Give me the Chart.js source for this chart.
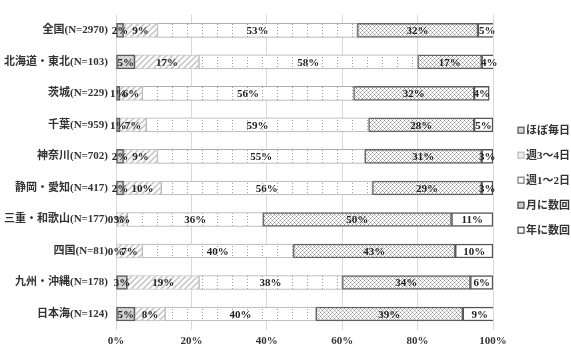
<!DOCTYPE html>
<html>
<head>
<meta charset="utf-8">
<script src="https://cdn.jsdelivr.net/npm/chart.js@4/dist/chart.umd.min.js"></script>
<style>
  html, body { margin: 0; padding: 0; background: #fff; }
  canvas { display: block; }
</style>
</head>
<body>
<canvas id="chart" width="571" height="353"></canvas>
<script>
// Regions (N = respondents)
const regions = [
  '全国(N=2970)', '北海道・東北(N=103)', '茨城(N=229)', '千葉(N=959)', '神奈川(N=702)',
  '静岡・愛知(N=417)', '三重・和歌山(N=177)', '四国(N=81)', '九州・沖縄(N=178)', '日本海(N=124)'
];
const seriesNames = ['ほぼ毎日', '週3〜4日', '週1〜2日', '月に数回', '年に数回'];

// Share of respondents per frequency (%)
const almostDaily   = [2, 5, 1, 1, 2, 2, 0, 0, 3, 5];
const threeFourWeek = [9, 17, 6, 7, 9, 10, 3, 7, 19, 8];
const oneTwoWeek    = [53, 58, 56, 59, 55, 56, 36, 40, 38, 40];
const fewPerMonth   = [32, 17, 32, 28, 31, 29, 50, 43, 34, 39];
const fewPerYear    = [5, 4, 4, 5, 3, 3, 11, 10, 6, 9];

const xTicks = [0, 20, 40, 60, 80, 100];

const FONT_FAMILY = "'Liberation Serif', 'Noto Sans CJK JP', serif";

// ---- fill patterns ----
function makeTile(w, h, draw) {
  const c = document.createElement('canvas');
  c.width = w; c.height = h;
  const g = c.getContext('2d');
  g.fillStyle = '#ffffff';
  g.fillRect(0, 0, w, h);
  draw(g, w, h);
  return document.createElement('canvas').getContext('2d').createPattern(c, 'repeat');
}

const solidLight = makeTile(4, 4, (g) => {
  g.fillStyle = '#d6d6d6';
  g.fillRect(0, 0, 4, 4);
  g.fillStyle = '#bdbdbd';
  g.fillRect(0, 0, 1, 1);
  g.fillRect(2, 2, 1, 1);
});

const diagonal = makeTile(6, 6, (g) => {
  g.strokeStyle = '#c9c9c9';
  g.lineWidth = 1.6;
  g.beginPath();
  g.moveTo(-1, 7); g.lineTo(7, -1);
  g.moveTo(-1, 1); g.lineTo(1, -1);
  g.moveTo(5, 7); g.lineTo(7, 5);
  g.stroke();
});

const dottedCols = makeTile(15, 3, (g) => {
  g.fillStyle = '#9a9a9a';
  g.fillRect(7, 0, 1, 1);
});

const crossHatch = makeTile(4, 4, (g) => {
  g.fillStyle = '#8f8f8f';
  g.fillRect(0, 0, 1, 1);
  g.fillRect(2, 2, 1, 1);
  g.fillStyle = '#c4c4c4';
  g.fillRect(1, 1, 1, 1);
  g.fillRect(3, 3, 1, 1);
  g.fillRect(1, 3, 1, 1);
  g.fillRect(3, 1, 1, 1);
});

const seriesStyles = [
  { bg: solidLight, border: '#5c5c5c', width: 1.5, legendFill: '#d9d9d9', legendBorder: '#555' },
  { bg: diagonal,   border: '#c2c2c2', width: 1,   legendFill: '#eeeeee', legendBorder: '#bbb' },
  { bg: dottedCols, border: '#adadad', width: 1,   legendFill: '#ffffff', legendBorder: '#777' },
  { bg: crossHatch, border: '#626262', width: 1.5, legendFill: '#cfcfcf', legendBorder: '#444' },
  { bg: '#ffffff',  border: '#555555', width: 1.5, legendFill: '#ffffff', legendBorder: '#444' }
];

const seriesData = [almostDaily, threeFourWeek, oneTwoWeek, fewPerMonth, fewPerYear];

const datasets = seriesNames.map((name, i) => ({
  label: name,
  data: seriesData[i],
  backgroundColor: seriesStyles[i].bg,
  borderColor: seriesStyles[i].border,
  borderWidth: seriesStyles[i].width,
  borderSkipped: false,
  barThickness: 14
}));

// value labels centred on each segment
const segmentLabels = {
  id: 'segmentLabels',
  afterDatasetsDraw(chart) {
    const ctx = chart.ctx;
    ctx.save();
    ctx.font = "bold 11px " + FONT_FAMILY;
    ctx.fillStyle = '#222';
    ctx.textAlign = 'center';
    ctx.textBaseline = 'middle';
    chart.data.datasets.forEach((ds, i) => {
      const meta = chart.getDatasetMeta(i);
      meta.data.forEach((bar, j) => {
        const p = bar.getCenterPoint();
        ctx.fillText(ds.data[j] + '%', p.x, p.y + 1);
      });
    });
    ctx.restore();
  }
};

// legend column to the right of the plot
const sideLegend = {
  id: 'sideLegend',
  afterDraw(chart) {
    const ctx = chart.ctx;
    const area = chart.chartArea;
    const step = 25;
    const x = area.right + 25;
    const y0 = (area.top + area.bottom) / 2 + 8 - step * 2;
    ctx.save();
    ctx.font = "bold 11px " + FONT_FAMILY;
    ctx.textBaseline = 'middle';
    ctx.textAlign = 'left';
    chart.data.datasets.forEach((ds, i) => {
      const y = y0 + i * step;
      const st = seriesStyles[i];
      ctx.fillStyle = st.legendFill;
      ctx.fillRect(x, y - 3, 6, 6);
      ctx.strokeStyle = st.legendBorder;
      ctx.lineWidth = 1.2;
      ctx.strokeRect(x, y - 3, 6, 6);
      ctx.fillStyle = '#333';
      ctx.fillText(ds.label, x + 8, y + 1);
    });
    ctx.restore();
  }
};

new Chart(document.getElementById('chart'), {
  type: 'bar',
  data: { labels: regions, datasets },
  options: {
    indexAxis: 'y',
    responsive: false,
    devicePixelRatio: 1,
    animation: false,
    layout: { padding: { top: 5, right: 78, bottom: 0, left: 0 } },
    plugins: {
      legend: { display: false },
      tooltip: { enabled: false }
    },
    scales: {
      x: {
        stacked: true,
        min: 0,
        max: 100,
        afterBuildTicks: (scale) => { scale.ticks = xTicks.map(v => ({ value: v })); },
        grid: { color: '#d9d9d9', lineWidth: 1, drawTicks: false },
        border: { display: false },
        ticks: {
          padding: 5,
          color: '#333',
          font: { family: FONT_FAMILY, size: 11, weight: 'bold' },
          callback: (v) => v + '%'
        }
      },
      y: {
        stacked: true,
        grid: { display: false, drawTicks: false },
        border: { display: false },
        afterFit: (scale) => { scale.width = 116; },
        ticks: {
          padding: 8,
          color: '#333',
          font: { family: FONT_FAMILY, size: 11, weight: 'bold' }
        }
      }
    }
  },
  plugins: [segmentLabels, sideLegend]
});
</script>
</body>
</html>
